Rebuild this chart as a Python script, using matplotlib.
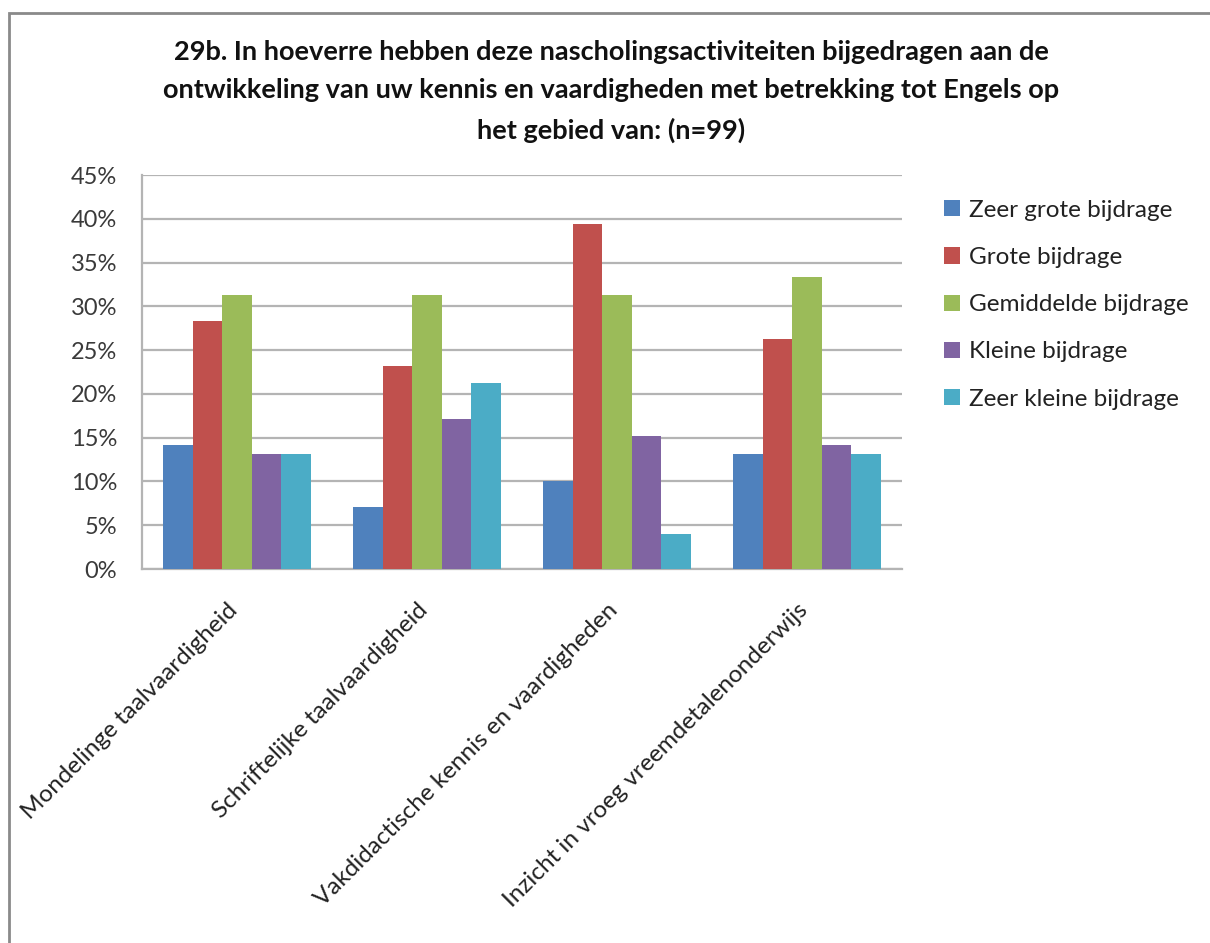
import matplotlib
matplotlib.use("Agg")
import matplotlib.pyplot as plt
from matplotlib.patches import Rectangle
from matplotlib.ticker import FuncFormatter
import matplotlib.transforms as mtransforms
import numpy as np

plt.rcParams['font.family'] = ['Lato', 'DejaVu Sans']

categories = ["Mondelinge taalvaardigheid", "Schriftelijke taalvaardigheid",
              "Vakdidactische kennis en vaardigheden", "Inzicht in vroeg vreemdetalenonderwijs"]
series = ["Zeer grote bijdrage", "Grote bijdrage", "Gemiddelde bijdrage",
          "Kleine bijdrage", "Zeer kleine bijdrage"]
# counts out of n=99
zeer_groot = [14, 7, 10, 13]
groot = [28, 23, 39, 26]
gemiddeld = [31, 31, 31, 33]
klein = [13, 17, 15, 14]
zeer_klein = [13, 21, 4, 13]
n = 99
colors = ["#4F81BD", "#C0504D", "#9BBB59", "#8064A2", "#4BACC6"]
title = ("29b. In hoeverre hebben deze nascholingsactiviteiten bijgedragen aan de\n"
         "ontwikkeling van uw kennis en vaardigheden met betrekking tot Engels op\n"
         "het gebied van: (n=99)")

fig = plt.figure(figsize=(12.1, 9.43), dpi=100)
ax = fig.add_axes([0.1174, 0.3966, 0.628, 0.4178])

x = np.arange(len(categories))
w = 0.155
data = [zeer_groot, groot, gemiddeld, klein, zeer_klein]
for i, (vals, name, c) in enumerate(zip(data, series, colors)):
    pct = np.array(vals) / n
    ax.bar(x + (i - 2) * w, pct, w, color=c, label=name, zorder=3)

ax.set_xlim(-0.5, 3.5)
ax.set_ylim(0, 0.45)
ax.set_yticks(np.arange(0, 0.451, 0.05))
ax.yaxis.set_major_formatter(FuncFormatter(lambda v, p: f"{round(v * 100)}%"))
ax.grid(axis='y', color='#b4b4b4', linewidth=1.6, zorder=0)
for s in ['top', 'right']:
    ax.spines[s].set_visible(False)
for s in ['left', 'bottom']:
    ax.spines[s].set_color('#b4b4b4')
    ax.spines[s].set_linewidth(1.6)
ax.tick_params(axis='y', length=0, pad=18, labelsize=17, labelcolor='#3a3a3a')
ax.tick_params(axis='x', length=0, pad=27, labelsize=17.5, labelcolor='#222222')
ax.set_xticks(x)
ax.set_xticklabels(categories, rotation=45, ha='right', rotation_mode='anchor', va='center')
shift = mtransforms.ScaledTranslation(-3 / 100, 0, fig.dpi_scale_trans)
for lbl in ax.get_xticklabels():
    lbl.set_transform(lbl.get_transform() + shift)

fig.text(0.505, 0.958, title, ha='center', va='top', fontsize=19.5, fontweight='bold',
         linespacing=1.72, color='#111111')

ax.legend(loc='upper left', bbox_to_anchor=(1.043, 0.962), frameon=False, fontsize=17.5,
          handlelength=0.65, handleheight=0.65, handletextpad=0.35, labelspacing=1.08,
          labelcolor='#222222', borderaxespad=0)

fig.patches.append(Rectangle((9 / 1210, -0.1), 1.2, 1.1 - 13 / 943, transform=fig.transFigure,
                             fill=False, edgecolor='#8a8a8a', linewidth=2))

fig.savefig("out.png", dpi=100)
